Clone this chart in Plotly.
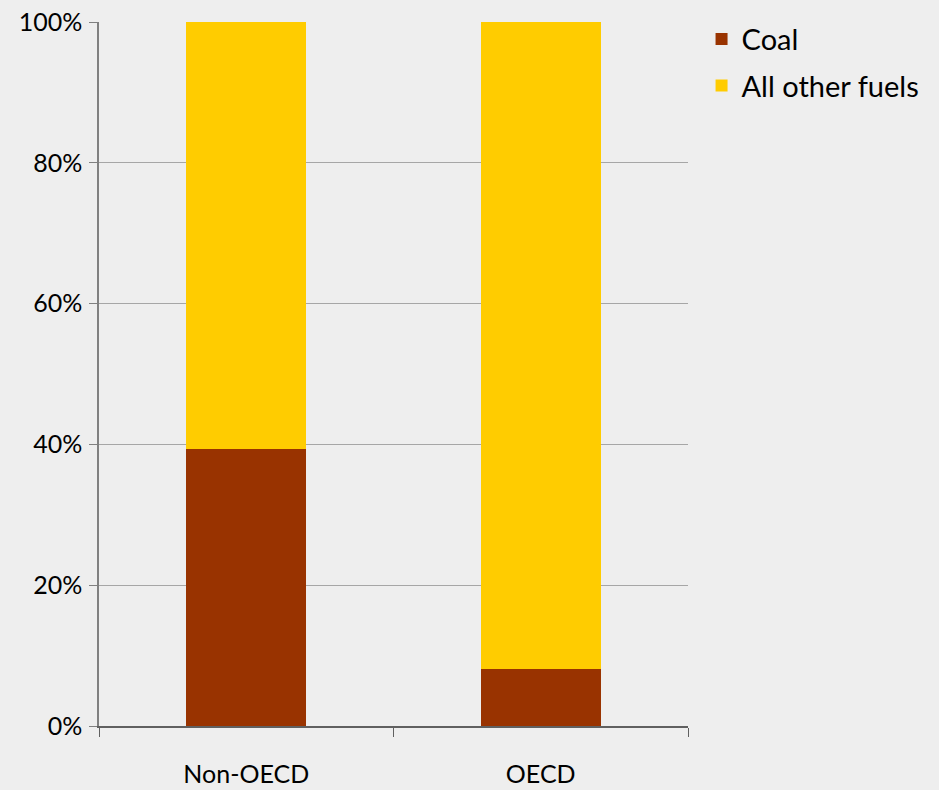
import plotly.graph_objects as go

categories = ["Non-OECD", "OECD"]
coal = [0.393, 0.081]
other = [0.607, 0.919]
series_names = ["Coal", "All other fuels"]
colors = ["#993300", "#FFCC00"]

FONT = "Lato"
fig = go.Figure()
fig.add_trace(go.Bar(x=categories, y=coal, name=series_names[0], legendgroup="a",
                     marker=dict(color=colors[0], line=dict(width=0))))
fig.add_trace(go.Bar(x=categories, y=other, name=series_names[1], legendgroup="b",
                     marker=dict(color=colors[1], line=dict(width=0))))

fig.update_layout(
    width=939, height=790,
    barmode="stack", bargap=0.592,
    paper_bgcolor="#EEEEEE", plot_bgcolor="#EEEEEE",
    margin=dict(l=99, r=251, t=22, b=64, pad=0, autoexpand=False),
    font=dict(family=FONT, size=25, color="#000000"),
    legend=dict(x=1.023, y=1.012, xanchor="left", yanchor="top", traceorder="grouped",
                bgcolor="rgba(0,0,0,0)", font=dict(size=29), itemwidth=30, tracegroupgap=6),
    showlegend=True,
)
fig.update_yaxes(range=[0, 1], dtick=0.2, tickformat=".0%", showgrid=True, gridcolor="#A6A6A6", gridwidth=1,
                 showline=True, linecolor="#808080", linewidth=1.5, ticks="outside", ticklen=8,
                 tickcolor="#808080", zeroline=False, ticklabelstandoff=2, automargin=False)
fig.update_xaxes(showline=True, linecolor="#606060", linewidth=1.5, ticks="outside", ticklen=9,
                 tickcolor="#606060", tickson="boundaries", showgrid=False, ticklabelstandoff=25,
                 automargin=False)

fig.write_html("out.html")
